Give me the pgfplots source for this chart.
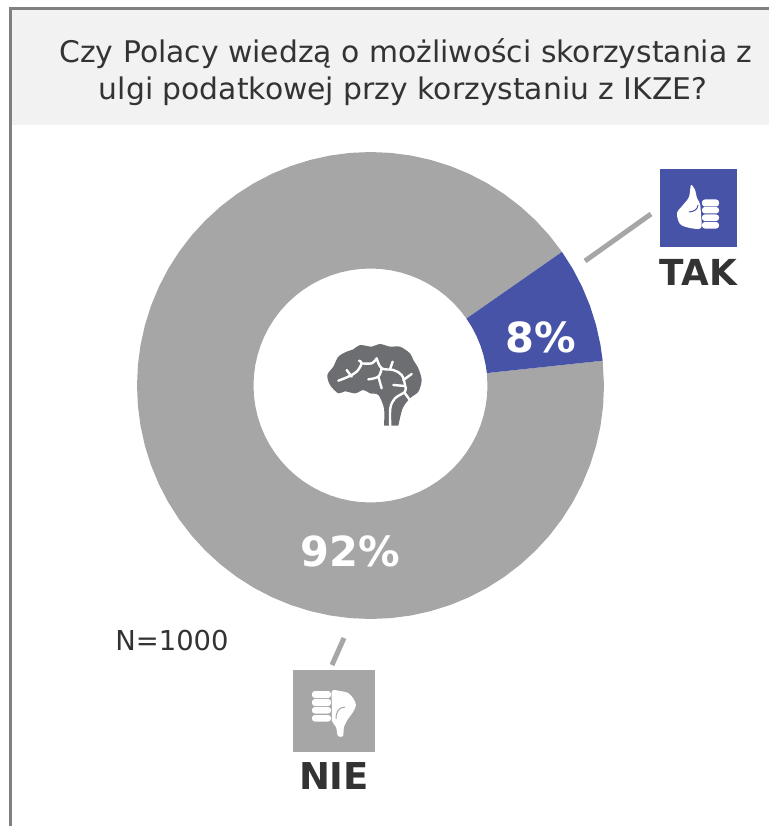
\documentclass[border=0pt]{standalone}
\usepackage{pgfplots}
\pgfplotsset{compat=1.18}
\usepgfplotslibrary{polar}
\usepackage{fontspec}
\setmainfont{DejaVu Sans}
\definecolor{cblue}{HTML}{4753A6}
\definecolor{cgray}{HTML}{A6A6A6}
\definecolor{cbrain}{HTML}{6D6E71}
\definecolor{ctext}{HTML}{333333}
\definecolor{cband}{HTML}{F2F2F2}
\definecolor{cframe}{HTML}{808080}
\begin{document}
\begin{tikzpicture}
\begin{scope}[x=1pt,y=-1pt]
\path[use as bounding box] (0,0) rectangle (769,826);
% header band and frame
\fill[cband] (11,10) rectangle (769,125);
\draw[cframe,line width=3pt] (10,826) -- (10,9) -- (769,9);
\node[anchor=base,text=ctext,font=\fontsize{29.8}{29.8}\selectfont,inner sep=0] at (406,63) {Czy Polacy wiedzą o możliwości skorzystania z};
\node[anchor=base,text=ctext,font=\fontsize{29.8}{29.8}\selectfont,inner sep=0] at (403,100) {ulgi podatkowej przy korzystaniu z IKZE?};
\end{scope}
% donut: NIE 92 %, TAK 8 %
\begin{polaraxis}[at={(370.5pt,-385.5pt)},anchor=center,scale only axis,width=467pt,height=467pt,
  xmin=0,xmax=360,ymin=0,ymax=233.5,hide axis,clip=false]
\addplot[fill=cgray,draw=none] coordinates {
(34.9,233.5)(40,233.5)(45,233.5)(50,233.5)(55,233.5)(60,233.5)(65,233.5)(70,233.5)(75,233.5)(80,233.5)(85,233.5)(90,233.5)
(95,233.5)(100,233.5)(105,233.5)(110,233.5)(115,233.5)(120,233.5)(125,233.5)(130,233.5)(135,233.5)(140,233.5)(145,233.5)(150,233.5)
(155,233.5)(160,233.5)(165,233.5)(170,233.5)(175,233.5)(180,233.5)(185,233.5)(190,233.5)(195,233.5)(200,233.5)(205,233.5)(210,233.5)
(215,233.5)(220,233.5)(225,233.5)(230,233.5)(235,233.5)(240,233.5)(245,233.5)(250,233.5)(255,233.5)(260,233.5)(265,233.5)(270,233.5)
(275,233.5)(280,233.5)(285,233.5)(290,233.5)(295,233.5)(300,233.5)(305,233.5)(310,233.5)(315,233.5)(320,233.5)(325,233.5)(330,233.5)
(335,233.5)(340,233.5)(345,233.5)(350,233.5)(355,233.5)(360,233.5)(366.1,233.5)
(366.1,117)(360,117)(355,117)(350,117)(345,117)(340,117)(335,117)(330,117)(325,117)(320,117)(315,117)(310,117)
(305,117)(300,117)(295,117)(290,117)(285,117)(280,117)(275,117)(270,117)(265,117)(260,117)(255,117)(250,117)
(245,117)(240,117)(235,117)(230,117)(225,117)(220,117)(215,117)(210,117)(205,117)(200,117)(195,117)(190,117)
(185,117)(180,117)(175,117)(170,117)(165,117)(160,117)(155,117)(150,117)(145,117)(140,117)(135,117)(130,117)
(125,117)(120,117)(115,117)(110,117)(105,117)(100,117)(95,117)(90,117)(85,117)(80,117)(75,117)(70,117)
(65,117)(60,117)(55,117)(50,117)(45,117)(40,117)(34.9,117)
} -- cycle;
\addplot[fill=cblue,draw=none] coordinates {
(6.1,233.5)(10,233.5)(15,233.5)(20,233.5)(25,233.5)(30,233.5)(34.9,233.5)
(34.9,117)(30,117)(25,117)(20,117)(15,117)(10,117)(6.1,117)
} -- cycle;
\end{polaraxis}
\begin{scope}[x=1pt,y=-1pt]
% value labels
\node[text=white,font=\fontsize{41.5}{41.5}\selectfont\bfseries,inner sep=0,anchor=base] at (541,352) {8\%};
\node[text=white,font=\fontsize{41.5}{41.5}\selectfont\bfseries,inner sep=0,anchor=base] at (350.5,566) {92\%};
\node[text=ctext,font=\fontsize{27.4}{27}\selectfont,inner sep=0,anchor=base] at (172,650) {N=1000};
\node[text=ctext,font=\fontsize{35.8}{37}\selectfont\bfseries,inner sep=0,anchor=base] at (698.5,285) {TAK};
\node[text=ctext,font=\fontsize{37}{37}\selectfont\bfseries,inner sep=0,anchor=base] at (334,789) {NIE};
% leaders
\draw[cgray,line width=5pt] (585,261) -- (651,214);
\draw[cgray,line width=5pt] (332,665) -- (344,638);
% thumbs up
\fill[cblue] (660,169.5) rectangle (737,247);
\fill[white] plot[smooth cycle,tension=0.5] coordinates {(691,185)(695,190)(697,198)(700,204)(701,215)(701,228)(690,228)(680,224)(677,213)(683,205)(689,197)};
\foreach \a/\b in {199.5/206.5,207/213.5,214.5/221,222/228.5}
  \fill[white,rounded corners=2.8pt] (702,\a) rectangle (719,\b);
\draw[cblue,line width=1pt] (698,205) .. controls (697.5,209) and (695,211.5) .. (689,212);
% thumbs down
\fill[cgray] (293,670) rectangle (375,752);
\fill[white] plot[smooth cycle,tension=0.5] coordinates {(332,691)(340,691)(348,693)(353,698)(356,705)(353,712)(348,719)(344,727)(343,736)(338,736)(336,727)(332,721)(332,706)};
\foreach \a/\b in {691/698,699/706,707/713.5,715/721.5}
  \fill[white,rounded corners=2.8pt] (312,\a) rectangle (331,\b);
\draw[cgray,line width=1pt] (345,707) .. controls (339,707.5) and (336,711) .. (336,719);
% brain
\begin{scope}[shift={(310,330)},x=0.3333pt,y=-0.3333pt]
\fill[cbrain] plot[smooth,tension=0.5] coordinates {(222,287)(222,235)(205,195)(180,190)(160,180)(135,190)(105,184)(85,190)(60,165)(52,135)(70,110)(85,80)(110,65)(130,58)(150,45)(185,50)(210,42)(240,50)(270,50)(300,70)(310,90)(325,115)(335,150)(325,185)(300,205)(278,235)(265,287)} -- cycle;
\begin{scope}[white,line width=2.4pt,line cap=round]
\draw plot[smooth,tension=0.6] coordinates {(85,152)(115,140)(140,125)(155,100)(147,92)};
\draw plot[smooth,tension=0.6] coordinates {(155,100)(185,100)(200,85)};
\draw (110,120) -- (125,140);
\draw plot[smooth,tension=0.6] coordinates {(200,85)(215,115)(250,120)(275,135)(285,165)(285,185)(255,205)(241,235)(241,290)};
\draw plot[smooth,tension=0.6] coordinates {(215,115)(205,140)(175,148)};
\draw (205,140) -- (215,175);
\draw (248,95) -- (240,118);
\draw (305,132) -- (280,150);
\draw (250,165) -- (285,168);
\draw (285,190) -- (298,208);
\end{scope}
\end{scope}
\end{scope}
\end{tikzpicture}
\end{document}
